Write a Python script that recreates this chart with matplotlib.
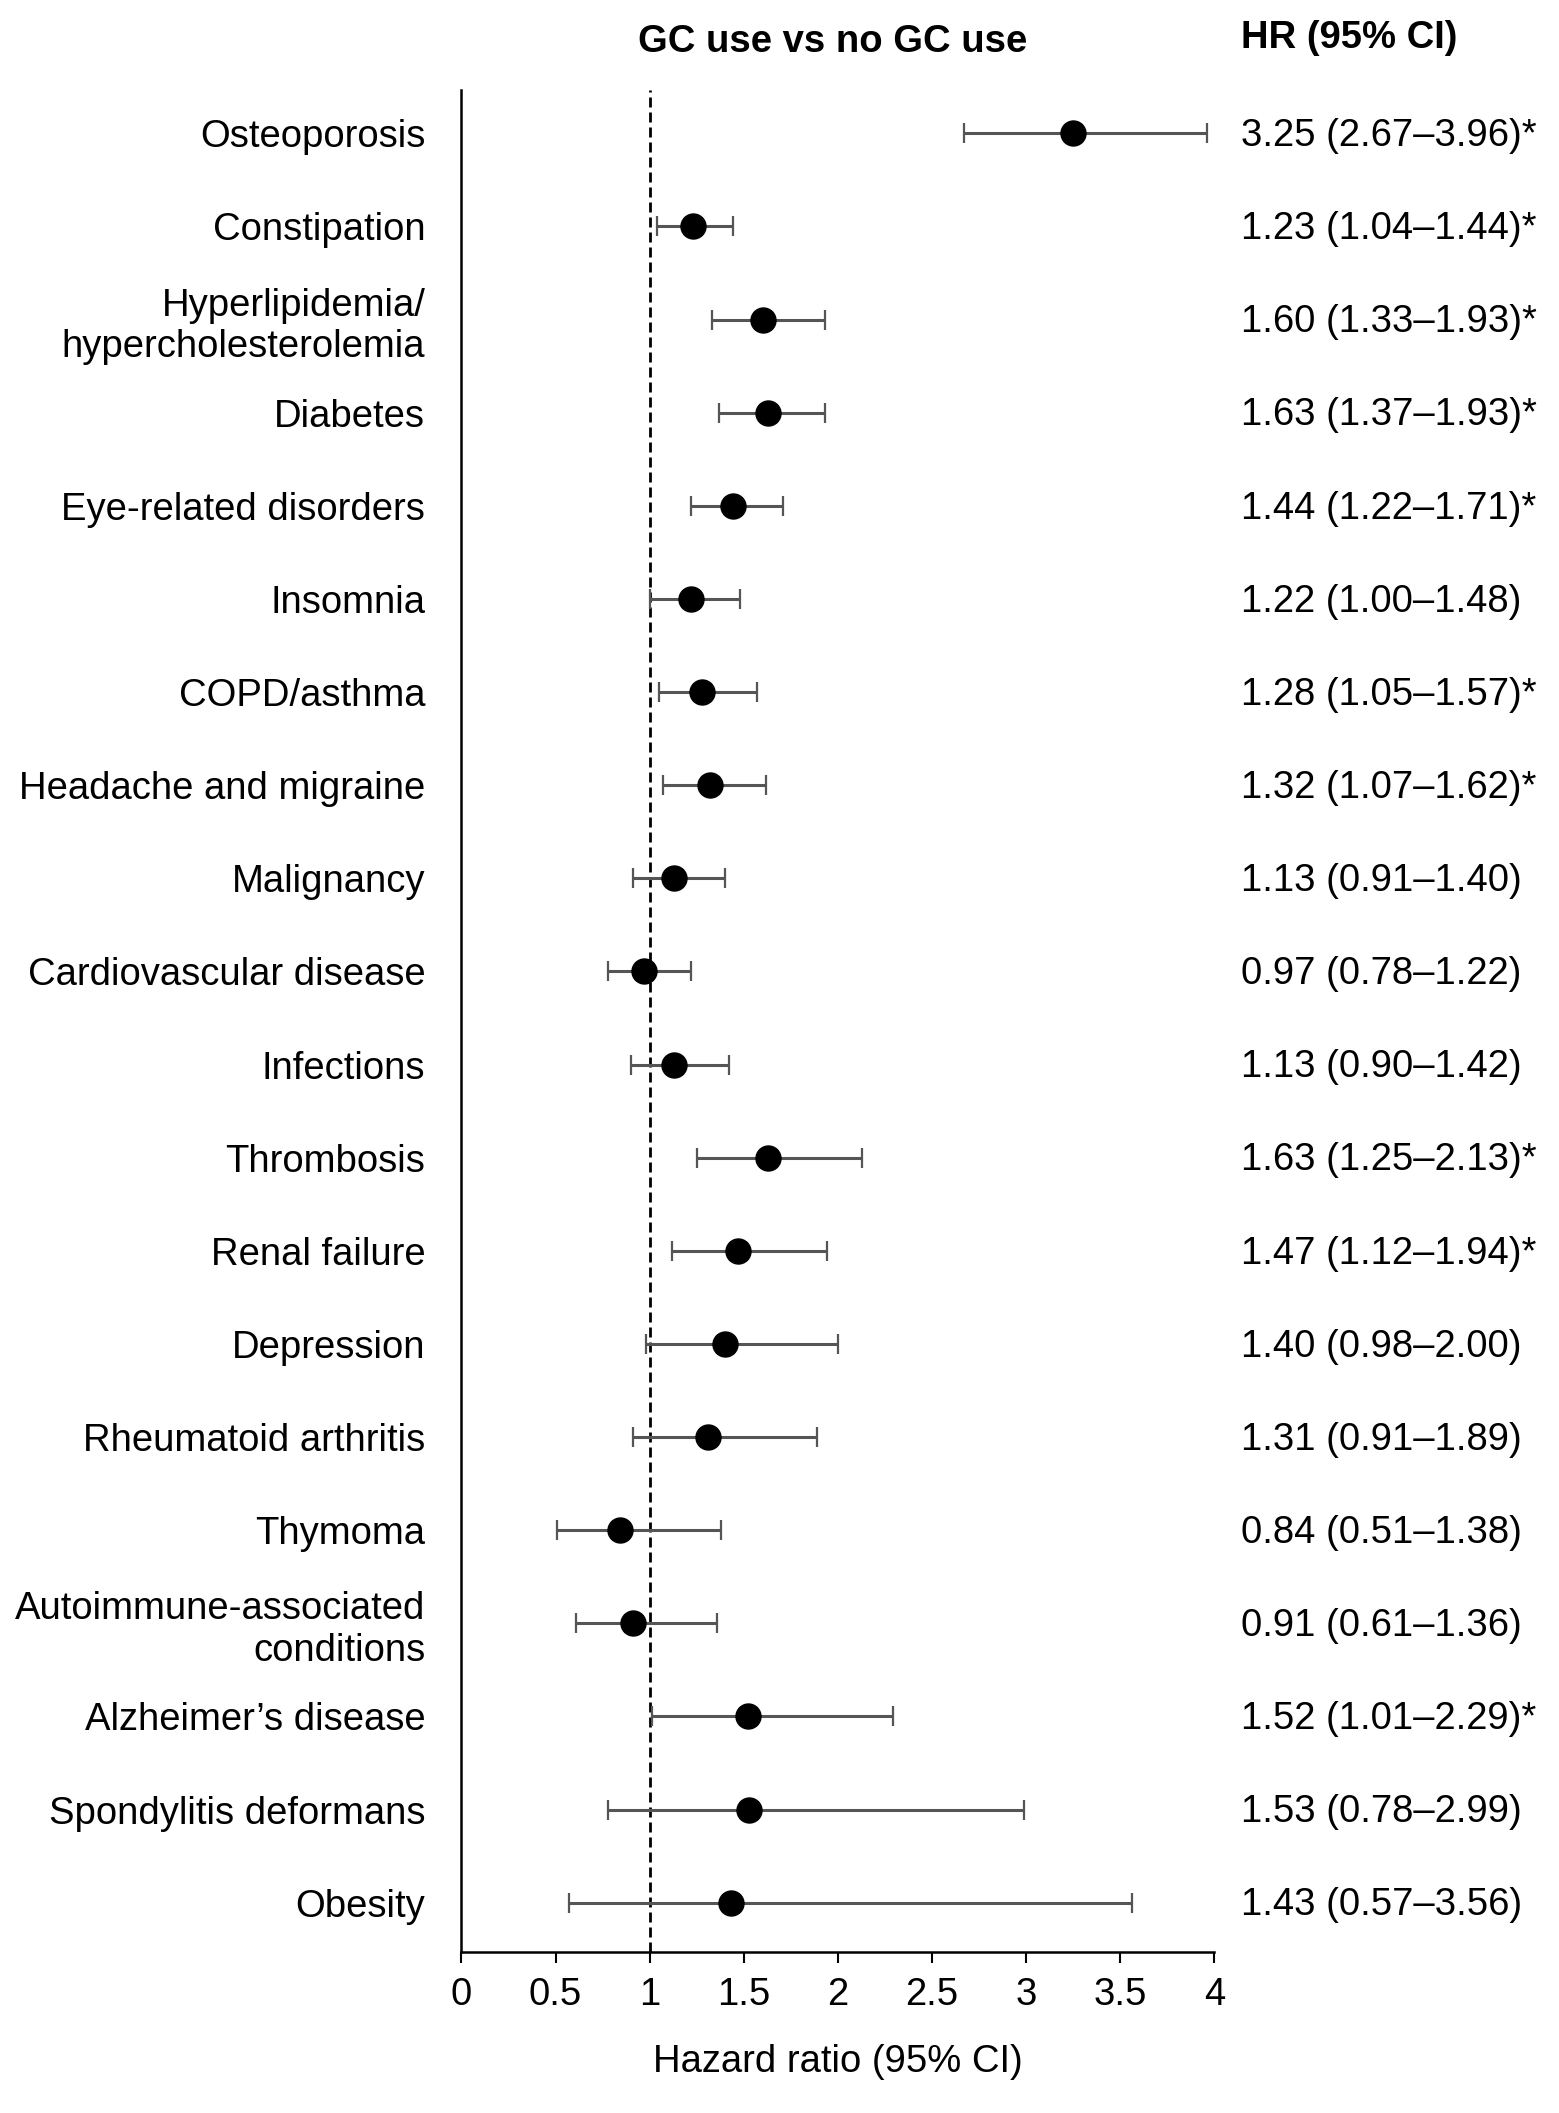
import matplotlib
matplotlib.use("Agg")
import matplotlib.pyplot as plt
import matplotlib.transforms as mtransforms
import numpy as np

plt.rcParams['font.family'] = ['Liberation Sans', 'DejaVu Sans']

labels = ["Osteoporosis", "Constipation", "Hyperlipidemia/\nhypercholesterolemia",
          "Diabetes", "Eye-related disorders", "Insomnia", "COPD/asthma",
          "Headache and migraine", "Malignancy", "Cardiovascular disease",
          "Infections", "Thrombosis", "Renal failure", "Depression",
          "Rheumatoid arthritis", "Thymoma", "Autoimmune-associated\nconditions",
          "Alzheimer\u2019s disease", "Spondylitis deformans", "Obesity"]
hr = [3.25, 1.23, 1.60, 1.63, 1.44, 1.22, 1.28, 1.32, 1.13, 0.97,
      1.13, 1.63, 1.47, 1.40, 1.31, 0.84, 0.91, 1.52, 1.53, 1.43]
lo = [2.67, 1.04, 1.33, 1.37, 1.22, 1.00, 1.05, 1.07, 0.91, 0.78,
      0.90, 1.25, 1.12, 0.98, 0.91, 0.51, 0.61, 1.01, 0.78, 0.57]
hi = [3.96, 1.44, 1.93, 1.93, 1.71, 1.48, 1.57, 1.62, 1.40, 1.22,
      1.42, 2.13, 1.94, 2.00, 1.89, 1.38, 1.36, 2.29, 2.99, 3.56]
signif = [True, True, True, True, True, False, True, True, False, False,
          False, True, True, False, False, False, False, True, False, False]
xticks = [0, 0.5, 1, 1.5, 2, 2.5, 3, 3.5, 4]

hr = np.array(hr)
lo = np.array(lo)
hi = np.array(hi)
y = np.arange(len(labels))
fs = 27.5

fig = plt.figure(figsize=(15.59, 21.13), dpi=100)
ax = fig.add_axes([0.296, 0.0762, 0.483, 0.881])

ax.errorbar(hr, y, xerr=[hr - lo, hi - hr], fmt='o', color='black',
            markersize=18, ecolor='#555555', elinewidth=2.2, capsize=7,
            capthick=1.6, zorder=3)
ax.axvline(1, color='black', lw=2, ls=(0, (3.6, 1.8)), zorder=2)

ax.set_xlim(0, 4)
ax.set_ylim(19.53, -0.46)
ax.set_xticks(xticks)
ax.set_xticklabels([f"{t:g}" for t in xticks], fontsize=fs)
ax.set_yticks(y)
ax.set_yticklabels(labels, fontsize=fs, linespacing=1.2)
ax.tick_params(axis='y', length=0, pad=26)
ax.tick_params(axis='x', length=8, width=1.5, direction='out', pad=10)
ax.spines['top'].set_visible(False)
ax.spines['right'].set_visible(False)
ax.spines['left'].set_linewidth(1.8)
ax.spines['bottom'].set_linewidth(1.8)
ax.set_xlabel("Hazard ratio (95% CI)", fontsize=fs, labelpad=22)

trans = mtransforms.blended_transform_factory(fig.transFigure, ax.transData)
for yi, h, l, u, s in zip(y, hr, lo, hi, signif):
    txt = f"{h:.2f} ({l:.2f}\u2013{u:.2f})" + ("*" if s else "")
    ax.text(0.796, yi + 0.03, txt, transform=trans, fontsize=fs, va='center',
            ha='left', clip_on=False)

fig.text(0.534, 0.980, "GC use vs no GC use", fontsize=fs, fontweight='bold',
         ha='center', va='center')
fig.text(0.796, 0.982, "HR (95% CI)", fontsize=fs, fontweight='bold',
         ha='left', va='center')

fig.savefig("out.png", dpi=100)
